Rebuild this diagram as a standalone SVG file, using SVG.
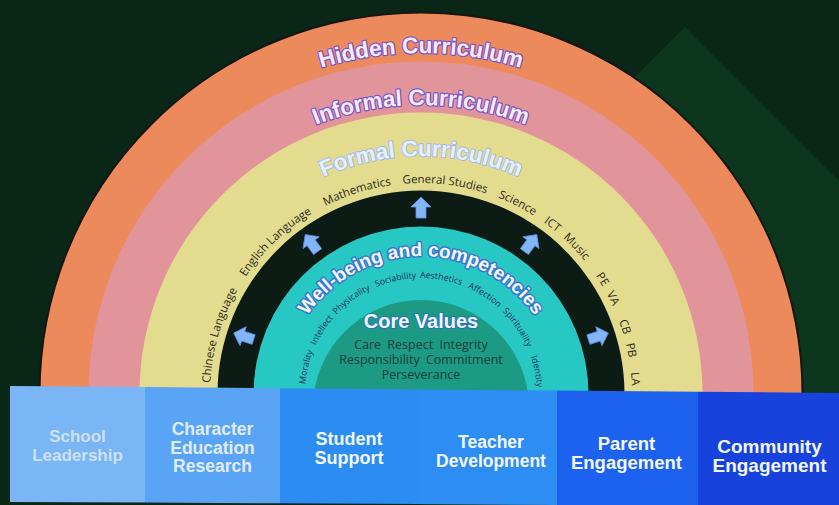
<svg xmlns="http://www.w3.org/2000/svg" width="839" height="505" viewBox="0 0 839 505">
<style>
.title{font-family:"Liberation Sans",Arial,sans-serif;font-weight:700;font-size:22.5px;paint-order:stroke;stroke-linejoin:round;text-anchor:middle}
.hid{fill:#f5edff;stroke:#7d56c8;stroke-width:2.5}
.frm{fill:#e6efff;stroke:#a3b9e4;stroke-width:2}
.subj{font-family:"Open Sans","Noto Sans",sans-serif;font-size:11.5px;fill:#2c2a1c}
.val{font-family:"Open Sans","Noto Sans",sans-serif;font-size:8.8px;fill:#1c2f58}
.wb{font-family:"Liberation Sans",Arial,sans-serif;font-weight:700;font-size:19px;fill:#f4f8ff;stroke:#3a78d0;stroke-width:3;paint-order:stroke;stroke-linejoin:round;text-anchor:middle}
.core{font-family:"Liberation Sans",Arial,sans-serif;font-weight:700;font-size:20px;fill:#eef7ff;stroke:#2f74b8;stroke-width:2;paint-order:stroke;text-anchor:middle}
.cv{font-family:"Open Sans","Noto Sans",sans-serif;font-size:12.5px;fill:#17403a;text-anchor:middle;word-spacing:3px}
.bt{font-family:"Liberation Sans",Arial,sans-serif;font-weight:700;text-anchor:middle}
.arrow{fill:#82b6f8;stroke:#5b8fe0;stroke-width:0.8}
</style>
<defs>
<path id="pHidden" d="M80,394 A341,341 0 0 1 762,394"/>
<path id="pInformal" d="M132,394 A289,289 0 0 1 710,394"/>
<path id="pFormal" d="M183,394 A238,238 0 0 1 659,394"/>
<path id="pSubj" d="M210,394 A211,211 0 0 1 632,394"/>
<path id="pWell" d="M283,394 A138,138 0 0 1 559,394"/>
<path id="pVal" d="M305,394 A116,116 0 0 1 537,394"/>
<polygon id="arw" points="0,-11 10,-1 5,-1 5,10 -5,10 -5,-1 -10,-1"/>
</defs>

<g id="background">
<rect x="0" y="0" width="839" height="505" fill="#0a2617"/>
<polygon points="685,27 839,181 839,505 420,505 420,292" fill="#0c361d"/>
</g>

<g id="hidden-curriculum">
<path d="M39.5,394 A381.5,381.5 0 0 1 802.5,394 Z" fill="#ec8a5c" stroke="#17160f" stroke-width="2"/>
<text class="title hid"><textPath href="#pHidden" startOffset="50%">Hidden Curriculum</textPath></text>
</g>

<g id="informal-curriculum">
<path d="M88.5,394 A332.5,332.5 0 0 1 753.5,394 Z" fill="#e1959a"/>
<text class="title hid"><textPath href="#pInformal" startOffset="50%">Informal Curriculum</textPath></text>
</g>

<g id="formal-curriculum">
<path d="M139.5,394 A281.5,281.5 0 0 1 702.5,394 Z" fill="#e3dc8e"/>
<text class="title frm"><textPath href="#pFormal" startOffset="50%">Formal Curriculum</textPath></text>
<text class="subj"><textPath href="#pSubj" startOffset="11">Chinese Language</textPath></text>
<text class="subj"><textPath href="#pSubj" startOffset="124">English Language</textPath></text>
<text class="subj"><textPath href="#pSubj" startOffset="232">Mathematics</textPath></text>
<text class="subj"><textPath href="#pSubj" startOffset="313">General Studies</textPath></text>
<text class="subj"><textPath href="#pSubj" startOffset="410">Science</textPath></text>
<text class="subj"><textPath href="#pSubj" startOffset="462">ICT</textPath></text>
<text class="subj"><textPath href="#pSubj" startOffset="487">Music</textPath></text>
<text class="subj"><textPath href="#pSubj" startOffset="537">PE</textPath></text>
<text class="subj"><textPath href="#pSubj" startOffset="558">VA</textPath></text>
<text class="subj"><textPath href="#pSubj" startOffset="588">CB</textPath></text>
<text class="subj"><textPath href="#pSubj" startOffset="612">PB</textPath></text>
<text class="subj"><textPath href="#pSubj" startOffset="641">LA</textPath></text>
</g>

<g id="ring-band">
<path d="M217.5,394 A203.5,203.5 0 0 1 624.5,394 Z" fill="#0c1c14"/>
</g>

<g id="wellbeing-competencies">
<path d="M253.5,394 A167.5,167.5 0 0 1 588.5,394 Z" fill="#27c8c3"/>
<text class="wb"><textPath href="#pWell" startOffset="50%">Well-being and competencies</textPath></text>
<text class="val"><textPath href="#pVal" startOffset="10">Morality</textPath></text>
<text class="val"><textPath href="#pVal" startOffset="50">Intellect</textPath></text>
<text class="val"><textPath href="#pVal" startOffset="87">Physicality</textPath></text>
<text class="val"><textPath href="#pVal" startOffset="136">Sociability</textPath></text>
<text class="val"><textPath href="#pVal" startOffset="181">Aesthetics</textPath></text>
<text class="val"><textPath href="#pVal" startOffset="230">Affection</textPath></text>
<text class="val"><textPath href="#pVal" startOffset="272">Spirituality</textPath></text>
<text class="val"><textPath href="#pVal" startOffset="326">Identity</textPath></text>
</g>

<g id="core-values">
<path d="M313,408 A108,108 0 0 1 529,408 Z" fill="#1c9a83"/>
<text class="core" x="421" y="328">Core Values</text>
<text class="cv" x="421" y="349">Care Respect Integrity</text>
<text class="cv" x="421" y="364">Responsibility Commitment</text>
<text class="cv" x="421" y="379">Perseverance</text>
</g>

<g id="connectors">
<use href="#arw" class="arrow" transform="translate(244.1,336.5) rotate(-72)"/>
<use href="#arw" class="arrow" transform="translate(311.7,243.5) rotate(-36)"/>
<use href="#arw" class="arrow" transform="translate(421,208)"/>
<use href="#arw" class="arrow" transform="translate(530.3,243.5) rotate(36)"/>
<use href="#arw" class="arrow" transform="translate(597.9,336.5) rotate(72)"/>
</g>

<g id="school-leadership">
<polygon points="10,386 145,387.1 145,502.6 10,502" fill="#7ab5f6"/>
<text class="bt" font-size="17" fill="#cfe0f6"><tspan x="77.5" y="442">School</tspan><tspan x="77.5" y="460.5">Leadership</tspan></text>
</g>
<g id="character-education-research">
<polygon points="145,387.1 280,388.3 280,503.3 145,502.6" fill="#5aa4f5"/>
<text class="bt" font-size="17.5" fill="#e0ecfb"><tspan x="212.5" y="435">Character</tspan><tspan x="212.5" y="453.5">Education</tspan><tspan x="212.5" y="472">Research</tspan></text>
</g>
<g id="student-support">
<polygon points="280,388.3 418,389.4 418,504 280,503.3" fill="#2b8cf1"/>
<text class="bt" font-size="18" fill="#f3f7ff"><tspan x="349" y="445">Student</tspan><tspan x="349" y="463.5">Support</tspan></text>
</g>
<g id="teacher-development">
<polygon points="418,389.4 557,390.6 557,505 418,504" fill="#2d8df2"/>
<text class="bt" font-size="17.5" fill="#f3f7ff"><tspan x="491" y="448">Teacher</tspan><tspan x="491" y="467">Development</tspan></text>
</g>
<g id="parent-engagement">
<polygon points="557,390.6 698,391.8 698,505 557,505" fill="#1d62ee"/>
<text class="bt" font-size="18.5" fill="#f3f7ff"><tspan x="626.5" y="450">Parent</tspan><tspan x="626.5" y="469">Engagement</tspan></text>
</g>
<g id="community-engagement">
<polygon points="698,391.8 839,393 839,505 698,505" fill="#1742dc"/>
<text class="bt" font-size="19" fill="#f3f7ff"><tspan x="769.5" y="453">Community</tspan><tspan x="769.5" y="472">Engagement</tspan></text>
</g>
</svg>
